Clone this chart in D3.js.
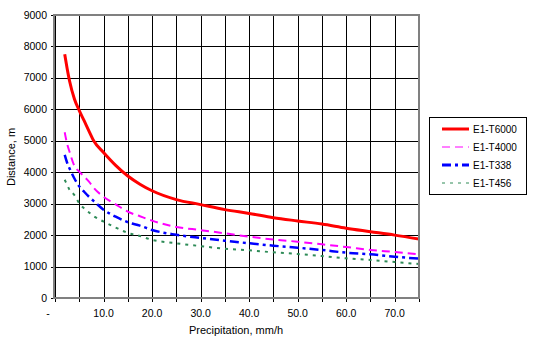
<!DOCTYPE html>
<html><head><meta charset="utf-8">
<script src="https://cdn.jsdelivr.net/npm/d3@7"></script>
<style>body{margin:0;background:#fff}text{font-family:"Liberation Sans",Arial,sans-serif}</style>
</head><body><svg id="c" width="535" height="343"></svg>
<script>
const xs = [2,2.5,3,4,5,6,7,8,10,12.5,15,17.5,20,25,30,35,40,45,50,55,60,65,70,75];
const t6000 = [7750,7300,6900,6330,5960,5640,5310,4990,4630,4220,3880,3620,3410,3130,2970,2810,2690,2555,2450,2350,2220,2110,2000,1875];
const t4000 = [5270,4900,4650,4200,4020,3860,3700,3500,3220,2980,2745,2600,2460,2260,2160,2056,1950,1860,1790,1707,1622,1527,1463,1390];
const t338  = [4550,4300,4120,3800,3550,3380,3220,3080,2810,2585,2410,2300,2163,2010,1910,1823,1740,1664,1600,1527,1441,1390,1314,1250];
const t456  = [3760,3600,3440,3270,3010,2850,2720,2600,2430,2240,2070,1970,1850,1740,1650,1568,1516,1453,1400,1336,1262,1209,1145,1081];
const seriesNames = ["E1-T6000","E1-T4000","E1-T338","E1-T456"];
const yTicks = [0,1000,2000,3000,4000,5000,6000,7000,8000,9000];
const xGrid = [0,5,10,15,20,25,30,35,40,45,50,55,60,65,70,75];
const xLabels = [[0,"-"],[10,"10.0"],[20,"20.0"],[30,"30.0"],[40,"40.0"],[50,"50.0"],[60,"60.0"],[70,"70.0"]];

const series = [
  {name:seriesNames[0], v:t6000, color:"#ff0000", w:3, dash:null, lw:3},
  {name:seriesNames[1], v:t4000, color:"#ff00ff", w:2, dash:"8,5", lw:1},
  {name:seriesNames[2], v:t338,  color:"#0000ff", w:2.5, dash:"9,4,3,4", lw:3},
  {name:seriesNames[3], v:t456,  color:"#2e8b57", w:2, dash:"3,5", lw:1}
];

const svg = d3.select("#c");
const L=55,R=419,T=15,B=298;
const x = d3.scaleLinear().domain([0,75]).range([L,R]);
const y = d3.scaleLinear().domain([0,9000]).range([B,T]);

const g = svg.append("g");
g.selectAll(".vg").data(xGrid).enter().append("line")
 .attr("x1",d=>Math.round(x(d))+0.5).attr("x2",d=>Math.round(x(d))+0.5)
 .attr("y1",T).attr("y2",B).attr("stroke","#000").attr("stroke-width",1);
g.selectAll(".hg").data(yTicks).enter().append("line")
 .attr("y1",d=>Math.round(y(d))+0.5).attr("y2",d=>Math.round(y(d))+0.5)
 .attr("x1",L).attr("x2",R).attr("stroke","#000").attr("stroke-width",1);
g.selectAll(".yt").data(yTicks).enter().append("line")
 .attr("y1",d=>Math.round(y(d))+0.5).attr("y2",d=>Math.round(y(d))+0.5)
 .attr("x1",51).attr("x2",L).attr("stroke","#000");
g.selectAll(".xt").data(xGrid).enter().append("line")
 .attr("x1",d=>Math.round(x(d))+0.5).attr("x2",d=>Math.round(x(d))+0.5)
 .attr("y1",B).attr("y2",B+4).attr("stroke","#000");
g.selectAll(".yl").data(yTicks).enter().append("text")
 .attr("x",47).attr("y",d=>y(d)+3.5).attr("text-anchor","end")
 .attr("font-size","10.5px").text(d=>d);
g.selectAll(".xl").data(xLabels).enter().append("text")
 .attr("x",d=>d[0]===0?48:x(d[0])).attr("y",317).attr("text-anchor","middle")
 .attr("font-size","10.5px").text(d=>d[1]);

const line = d3.line().x(d=>x(d[0])).y(d=>y(d[1])).curve(d3.curveMonotoneX);
svg.append("clipPath").attr("id","pc").append("rect").attr("x",L).attr("y",T).attr("width",R-L).attr("height",B-T);
series.forEach(s=>{
  g.append("path").attr("d",line(xs.map((v,i)=>[v,s.v[i]])))
   .attr("fill","none").attr("stroke",s.color).attr("stroke-width",s.w)
   .attr("stroke-dasharray",s.dash).attr("clip-path","url(#pc)");
});

g.append("rect").attr("x",L-1).attr("y",T).attr("width",R-L+1).attr("height",B-T)
 .attr("fill","none").attr("stroke","#808080").attr("stroke-width",2);

svg.append("text").attr("x",236).attr("y",334).attr("text-anchor","middle")
 .attr("font-size","11px").text("Precipitation, mm/h");
svg.append("text").attr("transform","translate(15,157) rotate(-90)").attr("text-anchor","middle")
 .attr("font-size","11px").text("Distance, m");

const lg = svg.append("g");
lg.append("rect").attr("x",429.5).attr("y",117.5).attr("width",97).attr("height",77)
 .attr("fill","#fff").attr("stroke","#000").attr("stroke-width",1);
const ly = [129,147,165,183];
series.forEach((s,i)=>{
  lg.append("line").attr("x1",442).attr("x2",469).attr("y1",ly[i]).attr("y2",ly[i])
   .attr("stroke",s.color).attr("stroke-width",s.lw).attr("stroke-dasharray",s.dash);
  lg.append("text").attr("x",473).attr("y",ly[i]+3.5).attr("font-size","10px").text(s.name);
});
</script></body></html>
